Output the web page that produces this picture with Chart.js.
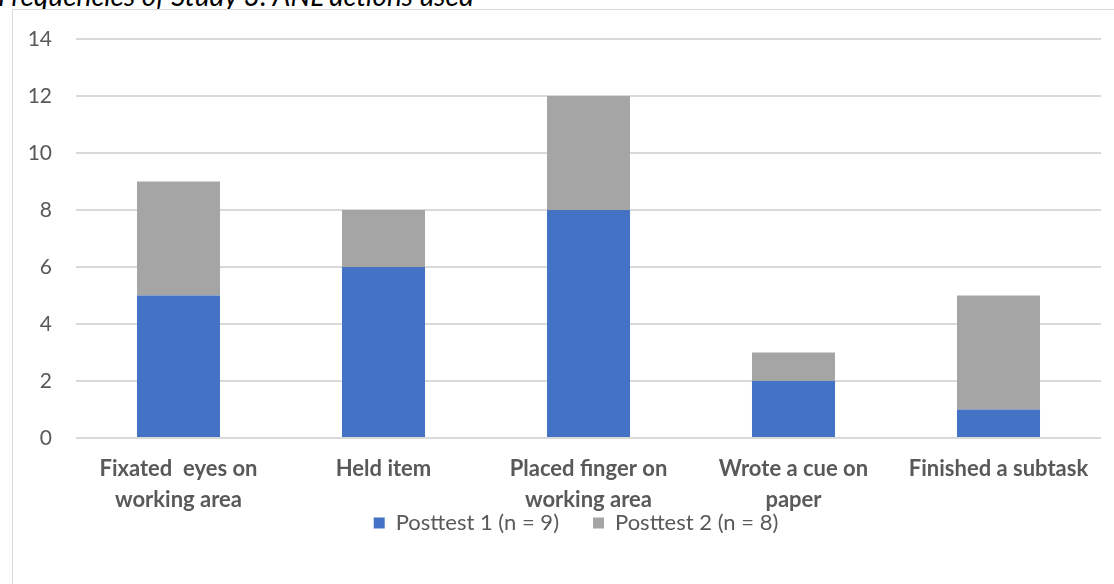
<!DOCTYPE html>
<html lang="en">
<head>
  <meta charset="UTF-8" />
  <title>Frequencies of actions used</title>
  <script src="https://cdn.jsdelivr.net/npm/chart.js"></script>
  <style>
    html, body { margin: 0; padding: 0; background: #fff; overflow: hidden; }
    body { width: 1114px; height: 584px; position: relative; }
    #title {
      position: absolute; left: -2px; top: -19px;
      font: italic 28px/28px "Lato", sans-serif; color: #000; white-space: nowrap;
    }
    #frame {
      position: absolute; left: 12px; top: 9px; width: 1120px; height: 600px;
      border: 1px solid #d9d9d9; box-sizing: border-box; background: #fff;
    }
    #chart { position: absolute; left: 13px; top: 10px; }
  </style>
</head>
<body>
  <div id="title">Frequencies of Study 3: ANL actions used</div>
  <div id="frame"></div>
  <canvas id="chart" width="1101" height="574"></canvas>

  <script>
    const categories = [
      ["Fixated  eyes on", "working area"],
      ["Held item"],
      ["Placed finger on", "working area"],
      ["Wrote a cue on", "paper"],
      ["Finished a subtask"]
    ];
    const posttest1 = [5, 6, 8, 2, 1];
    const posttest2 = [4, 2, 4, 1, 4];
    const seriesNames = ["Posttest 1 (n = 9)", "Posttest 2 (n = 8)"];
    const yTicks = [0, 2, 4, 6, 8, 10, 12, 14];

    // don't clip tick labels to the axis boxes (legend overlaps the x axis box)
    const noClip = function () { return undefined; };
    Chart.registry.getScale("category").prototype._computeLabelArea = noClip;
    Chart.registry.getScale("linear").prototype._computeLabelArea = noClip;

    const ctx = document.getElementById("chart").getContext("2d");
    new Chart(ctx, {
      type: "bar",
      data: {
        labels: categories,
        datasets: [
          { label: seriesNames[0], data: posttest1, backgroundColor: "#4472C4" },
          { label: seriesNames[1], data: posttest2, backgroundColor: "#A5A5A5" }
        ]
      },
      options: {
        responsive: false,
        animation: false,
        layout: { padding: { top: 29, left: 38, right: 13, bottom: 40 } },
        datasets: { bar: { categoryPercentage: 1, barPercentage: 0.405 } },
        plugins: {
          legend: {
            position: "bottom",
            labels: {
              boxWidth: 11, boxHeight: 11, padding: 34,
              color: "#595959",
              font: { family: "Lato", size: 22 }
            }
          },
          tooltip: { enabled: false }
        },
        scales: {
          x: {
            stacked: true,
            grid: { display: false, drawTicks: false },
            border: { display: false },
            ticks: {
              maxRotation: 0, autoSkip: false, padding: 15,
              color: "#595959",
              font: { family: "Lato", size: 22, weight: "bold", lineHeight: "31px" }
            },
            afterFit: s => { s.height = 40; s.paddingLeft = 0; s.paddingRight = 0; }
          },
          y: {
            stacked: true,
            min: 0, max: 14,
            afterBuildTicks: s => { s.ticks = yTicks.map(v => ({ value: v })); },
            grid: { color: "#d9d9d9", lineWidth: 2, drawTicks: false },
            border: { display: false },
            ticks: {
              padding: 24, color: "#595959",
              font: { family: "Lato", size: 21 }
            },
            afterFit: s => { s.width = 25; s.paddingTop = 0; s.paddingBottom = 0; }
          }
        }
      }
    });
  </script>
</body>
</html>
